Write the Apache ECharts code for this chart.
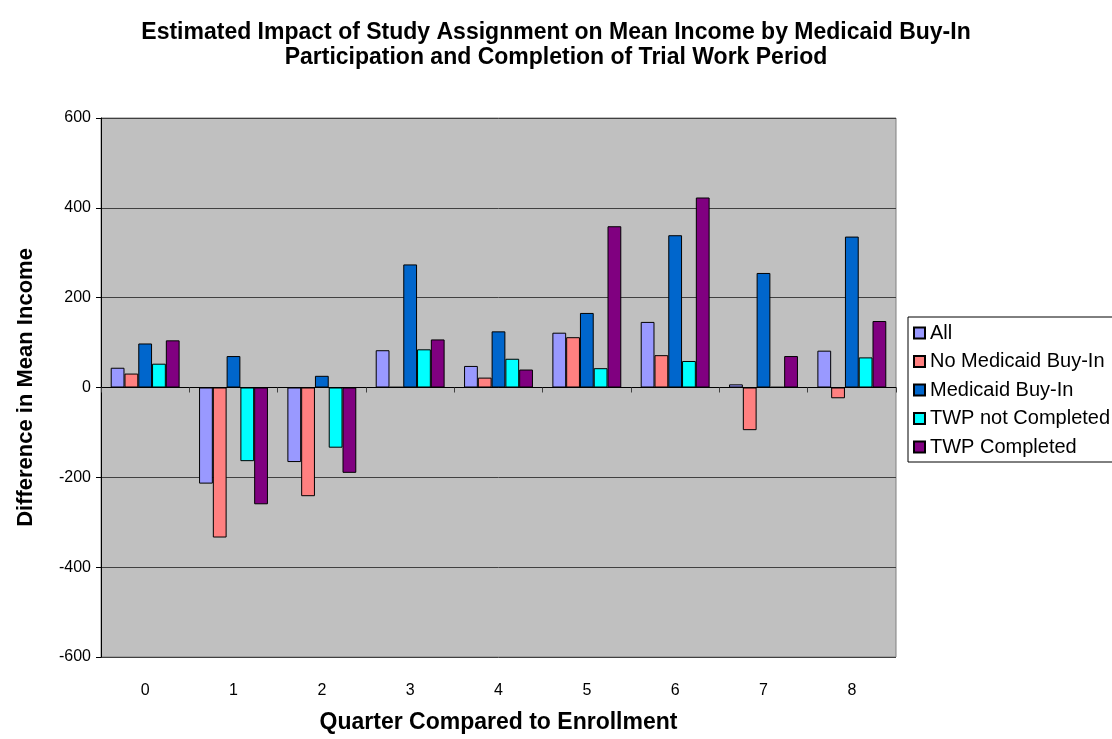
<!DOCTYPE html>
<html>
<head>
<meta charset="utf-8">
<script src="https://cdn.jsdelivr.net/npm/echarts@6/dist/echarts.min.js"></script>
<style>
  html, body { margin: 0; padding: 0; background: #fff; }
  #chart { width: 1112px; height: 739px; }
</style>
</head>
<body>
<div id="chart"></div>
<script>
// Quarters relative to enrollment
const quarters = ['0', '1', '2', '3', '4', '5', '6', '7', '8'];

// Estimated impact on mean income, by subgroup
const allParticipants = [44, -214, -166, 83, 48, 122, 146, 7, 82];
const noMedicaidBuyIn = [31, -334, -242, 1, 22, 112, 72, -95, -24];
const medicaidBuyIn = [98, 70, 26, 274, 125, 166, 339, 255, 336];
const twpNotCompleted = [53, -164, -134, 85, 64, 43, 59, 1, 67];
const twpCompleted = [105, -260, -190, 107, 40, 359, 423, 70, 148];

const seriesDefs = [
  { name: 'All', data: allParticipants, color: '#9999FF' },
  { name: 'No Medicaid Buy-In', data: noMedicaidBuyIn, color: '#FF8080' },
  { name: 'Medicaid Buy-In', data: medicaidBuyIn, color: '#0066CC' },
  { name: 'TWP not Completed', data: twpNotCompleted, color: '#00FFFF' },
  { name: 'TWP Completed', data: twpCompleted, color: '#800080' }
];

const font = 'Liberation Sans, Arial, sans-serif';
const chart = echarts.init(document.getElementById('chart'), null, { renderer: 'canvas' });

chart.setOption({
  animation: false,
  backgroundColor: '#ffffff',
  title: {
    text: 'Estimated Impact of Study Assignment on Mean Income by Medicaid Buy-In\nParticipation and Completion of Trial Work Period',
    left: 'center',
    top: 20,
    padding: 0,
    textStyle: { fontFamily: font, fontSize: 23, fontWeight: 'bold', color: '#000', lineHeight: 25 }
  },
  legend: {
    orient: 'vertical',
    left: 908,
    top: 317,
    backgroundColor: '#ffffff',
    borderColor: '#000000',
    borderWidth: 1,
    borderRadius: 0,
    padding: [6, 40, 5, 5],
    itemGap: 8.5,
    itemWidth: 11,
    itemHeight: 11,
    icon: 'rect',
    textStyle: { fontFamily: font, fontSize: 20, color: '#000', lineHeight: 20 },
    data: seriesDefs.map(s => s.name)
  },
  grid: {
    left: 101, right: 216, top: 118, bottom: 79,
    show: true,
    backgroundColor: '#C0C0C0',
    borderColor: '#808080',
    borderWidth: 1
  },
  xAxis: [
    {
      // category labels and axis title along the bottom of the plot
      type: 'category',
      data: quarters,
      position: 'bottom',
      axisLine: { show: false, onZero: false },
      axisTick: { show: false },
      axisLabel: { fontFamily: font, fontSize: 16, color: '#000', margin: 26 },
      name: 'Quarter Compared to Enrollment',
      nameLocation: 'middle',
      nameGap: 54,
      nameTextStyle: { fontFamily: font, fontSize: 23, fontWeight: 'bold', color: '#000' }
    },
    {
      // axis line and ticks crossing at zero
      type: 'category',
      data: quarters,
      position: 'bottom',
      axisLine: { show: true, onZero: true, lineStyle: { color: '#000', width: 1 } },
      axisTick: { show: true, length: 5, inside: false, lineStyle: { color: '#404040' } },
      axisLabel: { show: false }
    }
  ],
  yAxis: {
    type: 'value',
    min: -600,
    max: 600,
    interval: 200,
    axisLine: { show: true, lineStyle: { color: '#000', width: 1 } },
    axisTick: { show: true, length: 5, lineStyle: { color: '#000' } },
    axisLabel: { fontFamily: font, fontSize: 16, color: '#000', margin: 10 },
    splitLine: { show: true, lineStyle: { color: '#404040', width: 1 } },
    name: 'Difference in Mean Income',
    nameLocation: 'middle',
    nameGap: 64,
    nameTextStyle: { fontFamily: font, fontSize: 22, fontWeight: 'bold', color: '#000' }
  },
  series: seriesDefs.map(s => ({
    name: s.name,
    type: 'bar',
    xAxisIndex: 0,
    data: s.data,
    barGap: '0%',
    barCategoryGap: '22%',
    itemStyle: { color: s.color, borderColor: '#000', borderWidth: 1 }
  }))
});
</script>
</body>
</html>
